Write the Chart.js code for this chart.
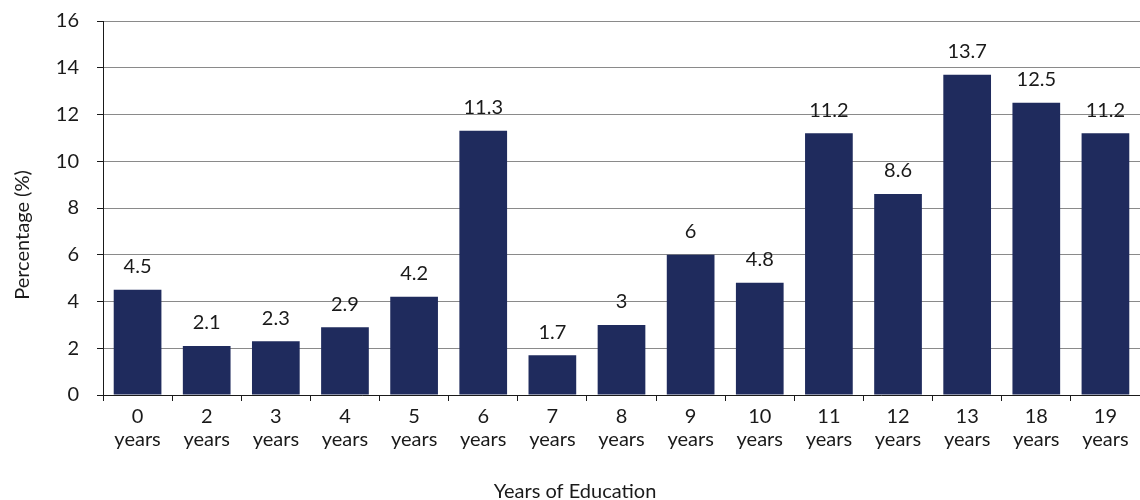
<!DOCTYPE html>
<html>
<head>
<meta charset="utf-8">
<script src="https://cdn.jsdelivr.net/npm/chart.js@4/dist/chart.umd.min.js"></script>
<style>
  html, body { margin: 0; padding: 0; background: #ffffff; }
  #wrap { width: 1140px; height: 500px; }
</style>
</head>
<body>
<div id="wrap"><canvas id="chart" width="1140" height="500"></canvas></div>
<script>
// Years of schooling completed and share of respondents in each group
const yearsCompleted = ["0", "2", "3", "4", "5", "6", "7", "8", "9", "10", "11", "12", "13", "18", "19"];
const percentages = [4.5, 2.1, 2.3, 2.9, 4.2, 11.3, 1.7, 3, 6, 4.8, 11.2, 8.6, 13.7, 12.5, 11.2];
const yTicks = [0, 2, 4, 6, 8, 10, 12, 14, 16];
const xTitle = "Years of Education";
const yTitle = "Percentage (%)";

const FONT = "Lato, 'Liberation Sans', sans-serif";
const TEXT = "#1a1a1a";
const BAR = "#1f2b5d";

const categoryLabels = yearsCompleted.map(n => [n, "years"]);

// Value labels above each bar
const valueLabels = {
  id: "valueLabels",
  afterDatasetsDraw(chart) {
    const { ctx } = chart;
    const meta = chart.getDatasetMeta(0);
    const values = chart.data.datasets[0].data;
    ctx.save();
    ctx.font = "20px " + FONT;
    ctx.fillStyle = TEXT;
    ctx.textAlign = "center";
    ctx.textBaseline = "middle";
    meta.data.forEach((bar, i) => {
      ctx.fillText(String(values[i]), bar.x, bar.y - 23);
    });
    ctx.restore();
  }
};

// Axis titles
const axisTitles = {
  id: "axisTitles",
  afterDraw(chart) {
    const { ctx, width, height } = chart;
    ctx.save();
    ctx.font = "20px " + FONT;
    ctx.fillStyle = TEXT;
    ctx.textAlign = "center";
    ctx.textBaseline = "middle";
    ctx.fillText(xTitle, width / 2 + 5, height - 8);
    ctx.translate(23, 235);
    ctx.rotate(-Math.PI / 2);
    ctx.fillText(yTitle, 0, 0);
    ctx.restore();
  }
};

new Chart(document.getElementById("chart"), {
  type: "bar",
  data: {
    labels: categoryLabels,
    datasets: [{
      data: percentages,
      backgroundColor: BAR,
      borderWidth: 0,
      barPercentage: 0.69,
      categoryPercentage: 1.0
    }]
  },
  options: {
    responsive: false,
    animation: false,
    devicePixelRatio: 1,
    layout: { padding: { top: 21, right: 0, bottom: 0, left: 0 } },
    plugins: {
      legend: { display: false },
      tooltip: { enabled: false }
    },
    scales: {
      x: {
        offset: true,
        border: { display: true, color: "#1a1a1a", width: 1 },
        grid: {
          display: true,
          offset: true,
          drawOnChartArea: false,
          drawTicks: true,
          tickLength: 6,
          tickColor: "#1a1a1a"
        },
        ticks: {
          color: TEXT,
          font: { family: FONT, size: 20, lineHeight: 1.15 },
          padding: 4,
          maxRotation: 0,
          autoSkip: false
        },
        afterFit(scale) { scale.height = 105; }
      },
      y: {
        min: 0,
        max: 16,
        afterBuildTicks(scale) { scale.ticks = yTicks.map(v => ({ value: v })); },
        border: { display: true, color: "#1a1a1a", width: 1 },
        grid: {
          color: "#8a8a8a",
          lineWidth: 1,
          drawTicks: true,
          tickLength: 6,
          tickColor: "#1a1a1a"
        },
        ticks: {
          color: TEXT,
          font: { family: FONT, size: 20 },
          padding: 18
        },
        afterFit(scale) {
          scale.width = 103;
          scale.paddingTop = 0;
          scale.paddingBottom = 0;
        }
      }
    }
  },
  plugins: [valueLabels, axisTitles]
});
</script>
</body>
</html>
